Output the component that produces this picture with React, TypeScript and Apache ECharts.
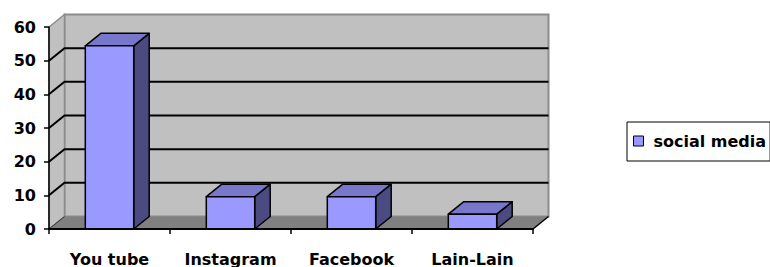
import React, { useEffect, useRef } from "react";
import * as echarts from "echarts";

const categories = ["You tube", "Instagram", "Facebook", "Lain-Lain"];
const values = [54.4, 9.6, 9.6, 4.4];
const seriesName = "social media";
const yMin = 0;
const yMax = 60;
const yStep = 10;
const wallLines = [10, 20, 30, 40, 50];

const DX = 15.5;
const DY = -12.5;
const FONT = "DejaVu Sans";

export default function App() {
  const ref = useRef<HTMLDivElement>(null);

  useEffect(() => {
    if (!ref.current) return;
    const chart = echarts.init(ref.current, null, { renderer: "svg" });

    const wallsRender = (params: any, api: any) => {
      const cs = params.coordSys;
      const L = cs.x;
      const R = cs.x + cs.width;
      const y0 = api.coord([0, yMin])[1];
      const yT = api.coord([0, yMax])[1];
      const children: any[] = [];
      children.push({
        type: "polygon",
        shape: { points: [[L + DX, yT + DY], [R + DX, yT + DY], [R + DX, y0 + DY], [L + DX, y0 + DY]] },
        style: { fill: "#C0C0C0", stroke: "#8C8C8C", lineWidth: 2 },
      });
      children.push({
        type: "polygon",
        shape: { points: [[L, y0], [L + DX, y0 + DY], [L + DX, yT + DY], [L, yT]] },
        style: { fill: "#C0C0C0", stroke: "#8C8C8C", lineWidth: 1.5 },
      });
      children.push({
        type: "polygon",
        shape: { points: [[L, y0], [R, y0], [R + DX, y0 + DY], [L + DX, y0 + DY]] },
        style: { fill: "#808080", stroke: "none" },
      });
      children.push({
        type: "line",
        shape: { x1: R, y1: y0, x2: R + DX, y2: y0 + DY },
        style: { stroke: "#000", lineWidth: 1.5 },
      });
      children.push({
        type: "line",
        shape: { x1: L, y1: y0, x2: L + DX, y2: y0 + DY },
        style: { stroke: "#333", lineWidth: 1 },
      });
      wallLines.forEach((v) => {
        const y = api.coord([0, v])[1];
        children.push({
          type: "polyline",
          shape: { points: [[L, y], [L + DX, y + DY], [R + DX, y + DY]] },
          style: { stroke: "#000", lineWidth: 2, fill: "none" },
        });
      });
      return { type: "group", children };
    };

    const barsRender = (params: any, api: any) => {
      const idx = api.value(0);
      const v = api.value(1);
      const top = api.coord([idx, v]);
      const base = api.coord([idx, 0]);
      const band = api.size([1, 0])[0];
      const w = band * 0.4;
      const x1 = top[0] - w / 2;
      const x2 = top[0] + w / 2;
      const yt = top[1];
      const yb = base[1];
      const stroke = { stroke: "#000", lineWidth: 1.5, lineJoin: "round" };
      return {
        type: "group",
        children: [
          {
            type: "polygon",
            shape: { points: [[x2, yt], [x2 + DX, yt + DY], [x2 + DX, yb + DY], [x2, yb]] },
            style: { fill: "#4B4B82", ...stroke },
          },
          {
            type: "polygon",
            shape: { points: [[x1, yt], [x2, yt], [x2 + DX, yt + DY], [x1 + DX, yt + DY]] },
            style: { fill: "#7777CC", ...stroke },
          },
          {
            type: "rect",
            shape: { x: x1, y: yt, width: w, height: yb - yt },
            style: { fill: "#9999FF", ...stroke },
          },
        ],
      };
    };

    chart.setOption({
      animation: false,
      textStyle: { fontFamily: FONT },
      grid: { left: 49, top: 27, width: 484, height: 204, containLabel: false },
      legend: {
        data: [seriesName],
        left: 627,
        top: 122,
        orient: "vertical",
        icon: "rect",
        itemWidth: 10,
        itemHeight: 10,
        padding: [11, 4, 12, 6],
        borderColor: "#000",
        borderWidth: 1,
        backgroundColor: "#fff",
        itemStyle: { color: "#9999FF", borderColor: "#000", borderWidth: 1 },
        textStyle: {
          fontFamily: FONT,
          fontWeight: "bold",
          fontSize: 16,
          color: "#000",
          lineHeight: 16,
          padding: [0, 0, 0, 5],
        },
      },
      xAxis: {
        type: "category",
        data: categories,
        z: 10,
        axisLine: { show: true, lineStyle: { color: "#000", width: 2 } },
        axisTick: { show: true, length: 5, lineStyle: { color: "#000", width: 1.5 } },
        axisLabel: {
          margin: 22,
          fontFamily: FONT,
          fontWeight: "bold",
          fontSize: 16,
          color: "#000",
        },
        splitLine: { show: false },
      },
      yAxis: {
        type: "value",
        min: yMin,
        max: yMax,
        interval: yStep,
        z: 10,
        axisLine: { show: true, lineStyle: { color: "#000", width: 1.5 } },
        axisTick: { show: true, length: 5, lineStyle: { color: "#000", width: 1.5 } },
        axisLabel: {
          margin: 13,
          fontFamily: FONT,
          fontWeight: "bold",
          fontSize: 16,
          color: "#000",
        },
        splitLine: { show: false },
      },
      series: [
        {
          type: "custom",
          name: "walls",
          z: 1,
          silent: true,
          renderItem: wallsRender,
          data: [[0, 0]],
          encode: { x: 0, y: 1 },
          clip: false,
        },
        {
          type: "custom",
          name: seriesName,
          z: 3,
          renderItem: barsRender,
          itemStyle: { color: "#9999FF", borderColor: "#000", borderWidth: 1 },
          data: values.map((v, i) => [i, v]),
          encode: { x: 0, y: 1 },
          clip: false,
        },
      ],
    });

    return () => chart.dispose();
  }, []);

  return (
    <div
      ref={ref}
      style={{ position: "absolute", left: 0, top: 0, width: 770, height: 267, background: "#fff" }}
    />
  );
}
